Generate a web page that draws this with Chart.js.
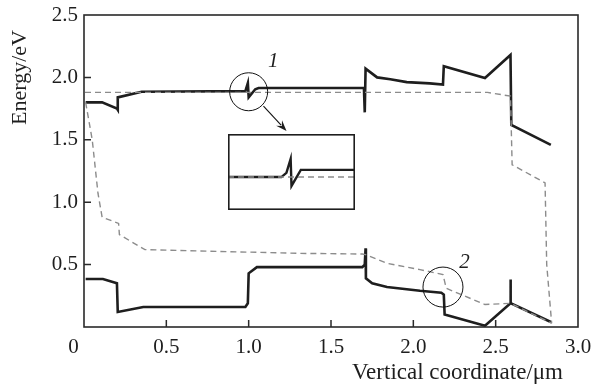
<!DOCTYPE html>
<html>
<head>
<meta charset="utf-8">
<script src="https://cdn.jsdelivr.net/npm/chart.js@4.4.1/dist/chart.umd.min.js"></script>
<style>
  html, body { margin: 0; padding: 0; background: #fff; font-family: "Liberation Serif", serif; }
  #wrap { position: relative; width: 593px; height: 389px; }
  #inset { position: absolute; background: #fff; }
  .warm { position: absolute; left: -1000px; top: 0; font-family: "Liberation Serif"; }
</style>
</head>
<body>
<span class="warm">0.5 Energy</span><span class="warm" style="font-style:italic">12</span>
<div id="wrap">
  <canvas id="main" width="593" height="389"></canvas>
  <div id="inset"><canvas id="zoom"></canvas></div>
</div>
<script>
// band edges (solid) and quasi-Fermi levels (dashed), energy in eV vs vertical coordinate in um
const cbX = [0.01, 0.11, 0.20, 0.205, 0.205, 0.35, 0.98, 0.995, 1.0, 1.04, 1.06, 1.70, 1.705, 1.71, 1.78, 1.86, 1.96, 2.10, 2.18, 2.185, 2.435, 2.59, 2.595, 2.835];
const cbY = [1.80, 1.80, 1.75, 1.74, 1.84, 1.885, 1.89, 1.955, 1.84, 1.905, 1.915, 1.915, 1.72, 2.07, 2.0, 1.985, 1.962, 1.952, 1.942, 2.09, 1.995, 2.18, 1.62, 1.46];

const vbX = [0.01, 0.115, 0.20, 0.205, 0.36, 0.98, 0.995, 1.0, 1.05, 1.69, 1.705, 1.71, 1.712, 1.75, 1.84, 2.04, 2.17, 2.185, 2.19, 2.435, 2.59, 2.59, 2.592, 2.835];
const vbY = [0.385, 0.385, 0.35, 0.12, 0.16, 0.16, 0.19, 0.43, 0.48, 0.48, 0.50, 0.63, 0.39, 0.35, 0.32, 0.29, 0.275, 0.26, 0.10, 0.01, 0.19, 0.38, 0.19, 0.04];

const efnX = [0.006, 2.45, 2.59, 2.60, 2.80, 2.81, 2.84];
const efnY = [1.88, 1.88, 1.85, 1.30, 1.155, 0.50, 0.03];

const efpX = [0.01, 0.05, 0.085, 0.11, 0.21, 0.215, 0.37, 1.31, 1.69, 1.71, 1.84, 2.04, 2.18, 2.20, 2.435, 2.59, 2.84];
const efpY = [1.80, 1.50, 1.07, 0.88, 0.83, 0.74, 0.62, 0.59, 0.585, 0.58, 0.51, 0.46, 0.42, 0.31, 0.18, 0.19, 0.03];

// magnified view of region 1
const zoomX = [0.95, 1.013, 1.019, 1.024, 1.025, 1.036, 1.10];
const zoomY = [1.878, 1.878, 1.888, 1.921, 1.857, 1.895, 1.895];
const zoomDashX = [0.95, 1.10];
const zoomDashY = [1.878, 1.878];

const xTicks = [0, 0.5, 1.0, 1.5, 2.0, 2.5, 3.0];
const yTicks = [0.5, 1.0, 1.5, 2.0, 2.5];

const FONT = '"Liberation Serif", serif';
const INK = '#1e1e1e';
const DASH = '#8c8c8c';

function pts(xs, ys) {
    return xs.map((v, i) => ({ x: v, y: ys[i] }));
}

const frame = {
    id: 'frame',
    afterDraw(chart) {
        const { ctx, chartArea: a, scales: { x, y } } = chart;
        ctx.save();
        ctx.strokeStyle = '#2a2a2a';
        ctx.lineWidth = 1.6;
        ctx.strokeRect(a.left, a.top, a.width, a.height);

        // inward tick marks
        ctx.lineWidth = 1.5;
        ctx.beginPath();
        xTicks.slice(1, -1).forEach(v => {
            const px = x.getPixelForValue(v);
            ctx.moveTo(px, a.bottom);
            ctx.lineTo(px, a.bottom - 7);
        });
        yTicks.slice(0, -1).forEach(v => {
            const py = y.getPixelForValue(v);
            ctx.moveTo(a.left, py);
            ctx.lineTo(a.left + 7, py);
        });
        ctx.stroke();

        // axis titles
        ctx.fillStyle = INK;
        ctx.font = '23px ' + FONT;
        ctx.textAlign = 'right';
        ctx.textBaseline = 'alphabetic';
        ctx.fillText('Vertical coordinate/\u03bcm', a.right - 15, a.bottom + 52);
        ctx.font = '22px ' + FONT;
        ctx.save();
        ctx.translate(20, a.top + 15);
        ctx.rotate(-Math.PI / 2);
        ctx.textBaseline = 'middle';
        ctx.fillText('Energy/eV', 0, 0);
        ctx.restore();

        // circles marking the regions
        ctx.strokeStyle = '#111';
        ctx.lineWidth = 1;
        [[1.0, 1.885, 19], [2.18, 0.32, 20]].forEach(([cx, cy, r]) => {
            ctx.beginPath();
            ctx.arc(x.getPixelForValue(cx), y.getPixelForValue(cy), r, 0, Math.PI * 2);
            ctx.stroke();
        });

        // labels 1 and 2
        ctx.font = 'italic 21px ' + FONT;
        ctx.textAlign = 'center';
        ctx.textBaseline = 'middle';
        ctx.fillText('1', x.getPixelForValue(1.15), y.getPixelForValue(2.125));
        ctx.fillText('2', x.getPixelForValue(2.31), y.getPixelForValue(0.52));

        // arrow to the inset
        const x0 = x.getPixelForValue(1.09), y0 = y.getPixelForValue(1.77);
        const x1 = x.getPixelForValue(1.23), y1 = y.getPixelForValue(1.57);
        const ang = Math.atan2(y1 - y0, x1 - x0);
        ctx.lineWidth = 1.1;
        ctx.beginPath();
        ctx.moveTo(x0, y0);
        ctx.lineTo(x1 - 8 * Math.cos(ang), y1 - 8 * Math.sin(ang));
        ctx.stroke();
        ctx.beginPath();
        ctx.moveTo(x1, y1);
        ctx.lineTo(x1 - 11 * Math.cos(ang) + 4 * Math.sin(ang), y1 - 11 * Math.sin(ang) - 4 * Math.cos(ang));
        ctx.lineTo(x1 - 7 * Math.cos(ang), y1 - 7 * Math.sin(ang));
        ctx.lineTo(x1 - 11 * Math.cos(ang) - 4 * Math.sin(ang), y1 - 11 * Math.sin(ang) + 4 * Math.cos(ang));
        ctx.closePath();
        ctx.fill();
        ctx.restore();
    }
};

function drawAll() {
    const chart = new Chart(document.getElementById('main'), {
        type: 'line',
        data: {
            datasets: [
                { data: pts(efnX, efnY), borderColor: DASH, borderWidth: 1.4, borderDash: [6, 4] },
                { data: pts(efpX, efpY), borderColor: DASH, borderWidth: 1.4, borderDash: [6, 4] },
                { data: pts(cbX, cbY), borderColor: INK, borderWidth: 2.6 },
                { data: pts(vbX, vbY), borderColor: INK, borderWidth: 2.6 }
            ]
        },
        options: {
            responsive: false,
            animation: false,
            parsing: false,
            layout: { padding: { top: 15, right: 15, left: 0, bottom: 0 } },
            elements: { point: { radius: 0 }, line: { tension: 0, borderJoinStyle: 'miter' } },
            plugins: { legend: { display: false }, tooltip: { enabled: false } },
            scales: {
                x: {
                    type: 'linear', min: 0, max: 3,
                    grid: { display: false, drawTicks: false },
                    border: { display: false },
                    afterBuildTicks: s => { s.ticks = xTicks.map(v => ({ value: v })); },
                    afterFit: s => { s.height = 62; s.paddingLeft = 0; s.paddingRight = 0; },
                    ticks: {
                        padding: 8, color: INK, maxRotation: 0,
                        font: { family: FONT, size: 21 },
                        // the corner zero sits left of the axis
                        callback: v => v === 0 ? '0    ' : v.toFixed(1)
                    }
                },
                y: {
                    type: 'linear', min: 0, max: 2.5,
                    grid: { display: false, drawTicks: false },
                    border: { display: false },
                    afterBuildTicks: s => { s.ticks = yTicks.map(v => ({ value: v })); },
                    afterFit: s => { s.width = 84; s.paddingTop = 0; s.paddingBottom = 0; },
                    ticks: {
                        padding: 6, color: INK,
                        font: { family: FONT, size: 21 },
                        callback: v => v.toFixed(1)
                    }
                }
            }
        },
        plugins: [frame]
    });

    // place the inset using the main chart's scales
    const sx = chart.scales.x, sy = chart.scales.y;
    const boxL = Math.round(sx.getPixelForValue(0.874));
    const boxR = Math.round(sx.getPixelForValue(1.645));
    const boxT = Math.round(sy.getPixelForValue(1.547));
    const boxB = Math.round(sy.getPixelForValue(0.94));
    const inset = document.getElementById('inset');
    inset.style.left = boxL + 'px';
    inset.style.top = boxT + 'px';
    const zc = document.getElementById('zoom');
    zc.width = boxR - boxL;
    zc.height = boxB - boxT;

    const insetFrame = {
        id: 'insetFrame',
        afterDraw(c) {
            const ctx = c.ctx;
            ctx.save();
            ctx.strokeStyle = '#1e1e1e';
            ctx.lineWidth = 1.6;
            ctx.strokeRect(0.8, 0.8, c.width - 1.6, c.height - 1.6);
            ctx.restore();
        }
    };

    new Chart(zc, {
        type: 'line',
        data: {
            datasets: [
                { data: pts(zoomDashX, zoomDashY), borderColor: DASH, borderWidth: 1.4, borderDash: [6, 4] },
                { data: pts(zoomX, zoomY), borderColor: INK, borderWidth: 2.4 }
            ]
        },
        options: {
            responsive: false,
            animation: false,
            parsing: false,
            layout: { padding: 0 },
            elements: { point: { radius: 0 }, line: { tension: 0 } },
            plugins: { legend: { display: false }, tooltip: { enabled: false } },
            scales: {
                x: { type: 'linear', min: 0.95, max: 1.10, display: false },
                y: { type: 'linear', min: 1.80, max: 1.98, display: false }
            }
        },
        plugins: [insetFrame]
    });
}

Promise.all([
    document.fonts.load('21px "Liberation Serif"'),
    document.fonts.load('italic 21px "Liberation Serif"')
]).then(drawAll, drawAll);
</script>
</body>
</html>
